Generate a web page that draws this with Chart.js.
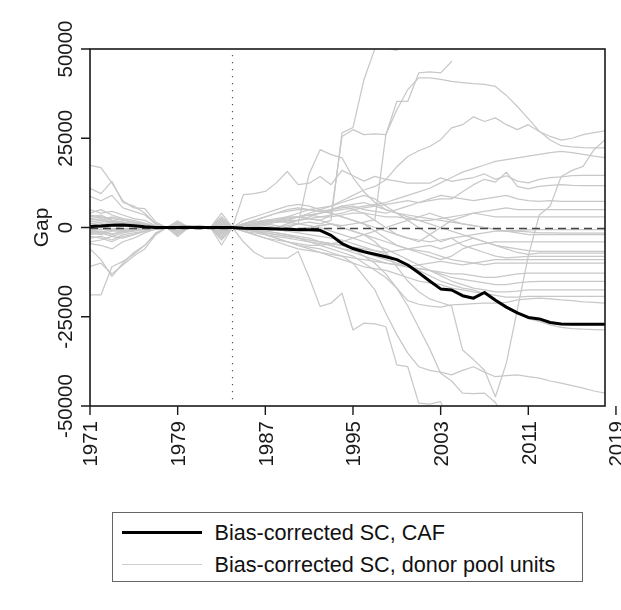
<!DOCTYPE html>
<html>
<head>
<meta charset="utf-8">
<title>Gap</title>
<script src="https://cdn.jsdelivr.net/npm/chart.js@4.4.1/dist/chart.umd.min.js"></script>
<style>
  html, body { margin: 0; padding: 0; background: #fff; }
  #wrap { position: relative; width: 621px; height: 610px; }
  #gapChart { position: absolute; left: 0; top: 0; }
  .legend {
    position: absolute; left: 112px; top: 512px; width: 471px; height: 70px;
    box-sizing: border-box; border: 1.5px solid #666;
    font-family: "Liberation Sans", Arial, Helvetica, sans-serif; font-size: 21.6px; color: #111;
  }
  .legend .row { position: absolute; left: 0; right: 0; height: 30px; line-height: 30px; }
  .legend .r1 { top: 5px; }
  .legend .r2 { top: 37px; }
  .legend .key { position: absolute; left: 8.5px; width: 80px; top: 15px; }
  .legend .caf { border-top: 3px solid #000; margin-top: -2.5px; }
  .legend .donor { border-top: 1.5px solid #cfcfcf; margin-top: -1.5px; }
  .legend .txt { position: absolute; left: 101.5px; white-space: nowrap; }
</style>
</head>
<body>
<div id="wrap">
  <canvas id="gapChart" width="621" height="500"></canvas>
  <div class="legend">
    <div class="row r1"><span class="key caf"></span><span class="txt">Bias-corrected SC, CAF</span></div>
    <div class="row r2"><span class="key donor"></span><span class="txt">Bias-corrected SC, donor pool units</span></div>
  </div>
</div>
<script>
// years on the x axis
const years = [1971, 1972, 1973, 1974, 1975, 1976, 1977, 1978, 1979, 1980, 1981, 1982, 1983, 1984,
  1985, 1986, 1987, 1988, 1989, 1990, 1991, 1992, 1993, 1994, 1995, 1996, 1997, 1998, 1999, 2000,
  2001, 2002, 2003, 2004, 2005, 2006, 2007, 2008, 2009, 2010, 2011, 2012, 2013, 2014, 2015, 2016,
  2017, 2018];
const yearTicks = [1971, 1979, 1987, 1995, 2003, 2011, 2019];
const gapTicks = [-50000, -25000, 0, 25000, 50000];
const treatmentYear = 1984;

// gaps below are in thousands
const gapUnit = 1000;

const cafGap = [0.3, 0.4, 0.6, 0.7, 0.5, 0.2, 0, 0, 0, 0.1, 0, 0, 0, 0,
  -0.2, -0.3, -0.3, -0.4, -0.5, -0.6, -0.6, -0.8, -2.2, -4.5, -5.9, -6.8, -7.5, -8.2, -9, -10.5,
  -12.7, -15, -17.2, -17.5, -19.1, -19.8, -18.2, -20.4, -22.3, -23.9, -25.2, -25.6, -26.6, -27,
  -27.1, -27.1, -27.1, -27.1];

// donor pool units
const donor01 = [2.5, 3, 2, 1.5, 1, 0.5, 0.2, 0, 0.8, 0, 0.2, 0, 1.2, 0,
  0.5, 1, 0.5, 0, 0.5, 1, 1.5, 1, 2, 26.5, 28, 41.4, 50.1, 50.3, 49.6, 58, 64, 68, 71, 74, 76, 78,
  80, 82, 83, 84, 85, 86, 87, 88, 88, 89, 89, 90];
const donor02 = [-1.5, -1, -2, -1, -0.5, -0.3, -0.1, 0, -0.6, 0, 0.1, 0, -1.2, 0,
  0.5, 0.8, 1, 1.5, 1.5, 2, 2.5, 2, 3.5, 25.5, 27.4, 26, 26.2, 26, 35.3, 35.3, 43.3, 43.6, 43.3, 46.5,
  null, null, null, null, null, null, null, null, null, null, null, null, null, null];
const donor03 = [17.4, 16.8, 12.5, 7.5, 5.5, 5.3, 1.5, 0, 1.9, 0, 0.6, 0, 4, 0,
  0.5, 0.3, 0, -0.5, -1, -0.5, 0, 0.5, 1, 0.5, 1, 1.5, 2.2, 26, 33, 38.6, 41.9, 41.9, 41.5, 40.9,
  40.6, 40.3, 40.1, 39.5, 37, 33.9, 30.5, 27, 24.5, 22.9, 22.6, 22.4, 22.3, 22.3];
const donor04 = [11, 9.5, 12.9, 7, 6, 4, 1, 0, 1.2, 0, 0.3, 0, 2.5, 0,
  0.5, 1, 1.5, 2, 3, 4, 5, 5.5, 6, 7.5, 9, 10.5, 11.5, 13.4, 17, 19.9, 21.5, 22.7, 24.6, 27.9, 28.8,
  31, 29.7, 30.7, 28.8, 27.4, 28.8, 26.9, 25.5, 24.5, 25, 26, 26.6, 27.1];
const donor05 = [1, 1.5, 1.8, 1, 0.8, 0.3, 0.1, 0, -0.3, 0, 0.1, 0, -0.5, 0,
  0, 0.5, 1, 0.5, 0, -0.5, 0, 0.5, 1, 0, -1, -2, -4, -7, -11, -15, -18, -20, -21, -22, -34.3, -37,
  -40, -47.4, -38, -23, -8, 3.5, 6, 14.3, 16, 17.1, 21.8, 24.6];
const donor06 = [8.7, 7.5, 9, 5.5, 4.5, 3.5, 1, 0, -1, 0, -0.4, 0, 3, 0,
  1, 1.5, 2, 2, 2.5, 3, 3.5, 4, 4.5, 5, 5.5, 6, 6.5, 7, 8, 9, 10, 11, 12.5, 14, 15.5, 16.5, 17.5,
  18.5, 19, 19.5, 20, 20.5, 21, 21.3, 21, 20.5, 20, 19.6];
const donor07 = [3.5, 3, 2.5, 2, 1.5, 1, 0.3, 0, -0.5, 0, 0.2, 0, -1, 0,
  9.2, 9.5, 10.1, 12.5, 15.7, 12, 12.4, 14.3, 12, 16, 14.5, 13, 14.3, 13.5, 13, 12.4, 12.4, 12.4,
  13.9, 12.9, 13.5, 14, 15, 13.5, 14.5, 13, 12.5, 13.5, 14, 14.2, 14.5, 14.6, 14.6, 14.6];
const donor08 = [-1, -0.5, -0.8, -0.5, -0.3, -0.2, 0, 0, 0.3, 0, 0, 0, 0.5, 0,
  -0.5, -1, -1, -0.5, 0, 1, 15, 21.8, 20.4, 19.5, 14, 10, 7, 5, 4, 3.5, 3, 2.5, 2, 1.5, 1, 0.5, 0,
  -0.5, -1, -1, -1.2, -1.5, -1.5, -1.6, -1.6, -1.6, -1.6, -1.6];
const donor09 = [-2, -1.5, -2.5, -1.5, -1, -0.5, -0.2, 0, -0.8, 0, -0.2, 0, -1.5, 0,
  0.5, 1, 1.5, 2, 2.5, 3, 3.5, 3, 3.5, 4, 5, 5.5, 6, 6.5, 7, 7.5, 7, 7.5, 8, 8, 10, 12, 13.5, 12.7,
  15.5, 11.5, 10.8, 11.5, 11.8, 12, 11.8, 11.7, 11.7, 11.7];
const donor10 = [-3, -2.5, -3.5, -2, -1.5, -1, -0.3, 0, 0.4, 0, 0.3, 0, 1, 0,
  1, 2, 3, 4, 5, 5.5, 5, 4.5, 5, 5.5, 6, 5, 4.5, 4, 5, 6, 7, 8, 9, 8.5, 8, 7.5, 8, 8.5, 9, 8, 7.5,
  7.3, 7.5, 7.3, 7.3, 7.3, 7.3, 7.3];
const donor11 = [-4, -3.5, -2.5, -3, -2, -1, -0.5, 0, -1.2, 0, -0.2, 0, -2, 0,
  0.5, 1, 1, 1.5, 2, 2, 2.5, 3, 3, 3.5, 4, 4, 3.5, 3, 3, 2.5, 2, 2, 2.5, 3, 3.5, 4, 4.5, 5, 5.5, 5,
  5, 5, 5, 5, 5, 5, 5, 5];
const donor12 = [-6, -9, -13.7, -10, -7, -5, -1.5, 0, -2.5, 0, -0.5, 0, -4.9, 0,
  0, -1, -2, -3, -4, -5, -5.5, -6, -7, -8, -10, -13.7, -17.5, -24, -30, -35.2, -39, -40, -40.5, -41.3,
  -40, -39, -40.5, -41.8, -41.5, -41.3, -41.8, -42.2, -43, -43.6, -44.3, -45, -45.8, -46.4];
const donor13 = [-18.9, -18.9, -11, -9.5, -7.5, -5, -1.8, 0, 0.6, 0, -0.3, 0, 2, 0,
  -4, -7, -8.6, -8.6, -8.6, -6.7, -14, -22.1, -21.2, -18.4, -28.7, -26.8, -27, -27.8, -38.5, -39,
  -49.2, -49.5, -48.8, -56, -60, -62, -63, -64, -65, -66, -66, -67, -67, -68, -68, -68, -69, -69];
const donor14 = [-10.9, -10, -13, -10.5, -8, -6, -2, 0, -1.5, 0, 0.4, 0, -3, 0,
  0, -0.5, -1, -1.5, -2, -3, -4, -5, -6, -7, -8, -10, -12, -14, -17, -20.5, -21.5, -22, -22.3, -21.7,
  -21.5, -21.3, -21.2, -21.2, -21, -20.3, -20, -19.8, -20, -20.3, -20.5, -20.8, -21, -21.2];
const donor15 = [2, 2.5, 1.5, 1.5, 1, 0.5, 0.2, 0, 0.5, 0, -0.3, 0, 0.8, 0,
  -0.5, -1, -1.5, -2, -2.5, -3, -3.5, -4, -4.5, -5, -6, -8, -10, -13, -17, -22, -28, -34, -40.8, -43,
  -46.4, -46.5, -46.4, -49, -55, -58, -60, -61, -62, -62, -63, -63, -63, -63];
const donor16 = [5, 4, 4.5, 3.5, 2.5, 2, 0.5, 0, 0.8, 0, 0.2, 0, 1.5, 0,
  0.5, 0.5, 0, -0.5, -1, -1.5, -2, -2.5, -3, -3.5, -4.5, -5.5, -6.5, -7.5, -9, -10.5, -12, -13.5,
  -15, -16, -17, -17.5, -18.5, -20, -22.5, -24, -25.5, -26.3, -27.3, -28, -28.3, -28.5, -28.6, -28.7];
const donor17 = [0.5, 1, 0.8, 0.5, 0.3, 0.2, 0, 0, -0.4, 0, 0.1, 0, -0.8, 0,
  1, 2, 3, 4, 4.5, 5, 5, 4.5, 4, 3, 2, 1, 0, -1, -2, -3, -3.5, -4, -3.5, -3, -2.5, -2, -1.5, -1, -1,
  -0.8, -0.7, -0.6, -0.6, -0.6, -0.6, -0.6, -0.6, -0.6];
const donor18 = [-0.5, 0, -0.5, -0.3, -0.2, -0.1, 0, 0, 0.6, 0, -0.1, 0, 0.3, 0,
  -1, -2, -3, -3.5, -4, -4.5, -5, -5, -4.5, -4, -3, -2, -1, 0, 1, 2, 3, 4, 3, 2, 1, 0.5, 0, -0.5,
  -1, -1.5, -2, -2, -2, -2, -2, -2, -2, -2];
const donor19 = [1.5, 2, 1.2, 1, 0.8, 0.4, 0.1, 0, -0.2, 0, 0.2, 0, -2.5, 0,
  0.5, 1, 1.5, 2, 2.5, 3, 3.5, 4, 5, 6, 6.5, 7, 6, 5, 4, 3, 2, 1, 0, -1, -2, -3, -4, -5, -5.5, -6,
  -6.5, -6.7, -6.7, -6.7, -6.7, -6.7, -6.7, -6.7];
const donor20 = [-1.5, -2, -1, -1, -0.8, -0.5, -0.1, 0, 1.5, 0, -0.2, 0, 2.2, 0,
  -0.5, -1, -1.5, -2, -2.5, -3, -3.5, -4, -4.5, -5, -5.5, -6, -6.5, -7, -6.5, -6, -5.5, -5, -6, -5,
  -4, -3, -4, -5, -6, -7, -7.5, -7.2, -7.2, -7.2, -7.2, -7.2, -7.2, -7.2];
const donor21 = [0, 0.5, -0.5, 0.3, 0.5, 0.3, 0.1, 0, -1.8, 0, 0.3, 0, -1.8, 0,
  0, 0.5, 1, 1.5, 2, 3, 4, 5, 6, 7, 8, 9, 8, 6, 4, 2, 0, -2, -4, -3, -5, -6, -7, -8, -8.5, -8.3,
  -8.1, -8.1, -8.1, -8.1, -8.1, -8.1, -8.1, -8.1];
const donor22 = [-2.5, -3, -4, -2.5, -2, -1, -0.3, 0, 0.2, 0, 0.1, 0, -0.8, 0,
  -1, -1.5, -2, -2.5, -3, -3.5, -4, -4.5, -5, -6, -7, -8, -9, -10, -10.5, -11, -10.5, -10, -9.5, -10,
  -10.5, -10, -9.5, -9, -9, -9, -9, -9, -9, -9, -9, -9, -9, -9];
const donor23 = [3, 3.5, 2, 1.5, 1.2, 0.8, 0.2, 0, 1, 0, -0.4, 0, 1.8, 0,
  0.5, 1, 2, 2.5, 3, 3, 2.5, 2, 1, 0, -1, -2, -3, -4, -5, -6, -6.5, -7, -8, -9, -9.5, -10, -10.5,
  -10, -10, -10, -10, -10, -10, -10, -10, -10, -10, -10];
const donor24 = [-4.5, -5, -6, -4, -3, -1.5, -0.4, 0, -2.2, 0, 0.2, 0, -3.5, 0,
  -1, -2, -3, -4, -5, -6, -6.5, -7, -7.5, -8, -8.5, -9, -9.5, -10, -10.5, -11, -11.5, -12, -12.5, -13,
  -13, -13.5, -14, -14, -13.5, -13, -12.8, -12.8, -12.8, -12.8, -12.8, -12.8, -12.8, -12.8];
const donor25 = [2.5, 2, 3, 2.2, 1.5, 0.8, 0.2, 0, 0.2, 0, -0.2, 0, 0.5, 0,
  0, -0.5, -1, -1.5, -2, -2.5, -3, -4, -5, -6, -6.5, -7, -8, -9, -10, -11, -11.5, -12, -13, -14,
  -14.5, -15, -15.5, -16, -16, -15.5, -15.2, -15.1, -15.1, -15.1, -15.1, -15.1, -15.1, -15.1];
const donor26 = [-1, -1.5, -0.5, -0.8, -0.5, -0.2, 0, 0, -0.6, 0, 0, 0, -1.2, 0,
  1, 1.5, 2, 2, 1.5, 1, 0.5, 0, -1, -2, -3, -4, -5, -6, -7.5, -9, -10.5, -12, -13.5, -15, -16, -17,
  -17.5, -18, -18, -17.8, -17.5, -17.5, -17.5, -17.5, -17.5, -17.5, -17.5, -17.5];
const donor27 = [4, 5, 3.5, 2.5, 2, 1.2, 0.3, 0, 0.5, 0, 0.3, 0, 0.2, 0,
  -0.5, -1, -2, -3, -4, -5, -6, -7, -8, -9, -10, -11, -11.5, -12, -13, -14, -15, -15.5, -16, -17,
  -17.5, -18, -18.5, -19, -19.5, -19.5, -19.3, -19.3, -19.3, -19.3, -19.3, -19.3, -19.3, -19.3];
const donor28 = [1.2, 0.5, 1.5, 1, 0.6, 0.3, 0.1, 0, 0.3, 0, -0.1, 0, -0.3, 0,
  -0.5, -1, -0.5, 0, 1, 2, 3, 4, 5, 6, 5, 4, 2, 0, -2, -3, -4, -2, 0, 2, 3, 4, 3.5, 3, 3, 3, 3, 3, 3,
  3, 3, 3, 3, 3];
const donor29 = [-0.8, -1.2, -1.8, -1.2, -0.8, -0.4, -0.1, 0, 0.9, 0, 0.2, 0, 1.4, 0,
  2, 3, 4, 5, 6, 6.5, 6, 5, 4, 3, 2, 1, -1, -3, -5, -6, -7, -8, -9, -8, -6, -5, -4.5, -4, -4, -4, -4,
  -4, -4, -4, -4, -4, -4, -4];

const donorGaps = [donor01, donor02, donor03, donor04, donor05, donor06, donor07, donor08, donor09,
  donor10, donor11, donor12, donor13, donor14, donor15, donor16, donor17, donor18, donor19, donor20,
  donor21, donor22, donor23, donor24, donor25, donor26, donor27, donor28, donor29];

const FONT = '"Liberation Sans", Arial, Helvetica, sans-serif';
const INK = '#1a1a1a';

function toPoints(series) {
  return series.map((v, i) => ({ x: years[i], y: v === null ? null : v * gapUnit }));
}

// CAF first so it is painted last, on top of the donor lines
const datasets = [{
  label: 'Bias-corrected SC, CAF',
  data: toPoints(cafGap),
  borderColor: '#000',
  borderWidth: 3
}];
donorGaps.forEach(series => {
  datasets.push({
    label: 'Bias-corrected SC, donor pool units',
    data: toPoints(series),
    borderColor: '#c8c8c8',
    borderWidth: 1.25
  });
});

// reference lines, frame, ticks and rotated labels
const axisDecor = {
  id: 'axisDecor',
  beforeDatasetDraw(chart, args) {
    if (args.index !== 0) return;
    const { ctx, chartArea: a, scales: { x, y } } = chart;
    ctx.save();
    ctx.beginPath();
    ctx.rect(a.left, a.top, a.right - a.left, a.bottom - a.top);
    ctx.clip();
    const y0 = Math.round(y.getPixelForValue(0)) + 0.5;
    ctx.strokeStyle = '#444';
    ctx.lineWidth = 1.4;
    ctx.setLineDash([8, 5]);
    ctx.beginPath();
    ctx.moveTo(a.left, y0);
    ctx.lineTo(a.right, y0);
    ctx.stroke();
    const xt = Math.round(x.getPixelForValue(treatmentYear)) + 0.5;
    ctx.strokeStyle = '#555';
    ctx.lineWidth = 1.2;
    ctx.setLineDash([1.3, 5.7]);
    ctx.beginPath();
    ctx.moveTo(xt, a.top + 6);
    ctx.lineTo(xt, a.bottom - 4);
    ctx.stroke();
    ctx.restore();
  },
  afterDraw(chart) {
    const { ctx, chartArea: a, scales: { x, y } } = chart;
    ctx.save();
    ctx.strokeStyle = INK;
    ctx.lineWidth = 1.6;
    ctx.strokeRect(a.left, a.top, a.right - a.left, a.bottom - a.top);

    ctx.lineWidth = 1.4;
    ctx.beginPath();
    gapTicks.forEach(v => {
      const py = y.getPixelForValue(v);
      ctx.moveTo(a.left - 9, py);
      ctx.lineTo(a.left, py);
    });
    yearTicks.forEach(v => {
      const px = x.getPixelForValue(v);
      ctx.moveTo(px, a.bottom);
      ctx.lineTo(px, a.bottom + 9);
    });
    ctx.stroke();

    ctx.fillStyle = INK;
    ctx.font = '20.5px ' + FONT;
    ctx.textBaseline = 'alphabetic';
    gapTicks.forEach(v => {
      ctx.save();
      ctx.translate(72, y.getPixelForValue(v));
      ctx.rotate(-Math.PI / 2);
      ctx.textAlign = 'center';
      ctx.fillText(String(v), 0, 0);
      ctx.restore();
    });
    yearTicks.forEach(v => {
      ctx.save();
      ctx.translate(x.getPixelForValue(v) + 7.3, a.bottom + 15);
      ctx.rotate(-Math.PI / 2);
      ctx.textAlign = 'right';
      ctx.fillText(String(v), 0, 0);
      ctx.restore();
    });

    ctx.font = '21px ' + FONT;
    ctx.save();
    ctx.translate(47.7, (a.top + a.bottom) / 2);
    ctx.rotate(-Math.PI / 2);
    ctx.textAlign = 'center';
    ctx.fillText('Gap', 0, 0);
    ctx.restore();
    ctx.restore();
  }
};

new Chart(document.getElementById('gapChart'), {
  type: 'line',
  data: { datasets },
  options: {
    responsive: false,
    animation: false,
    events: [],
    layout: { padding: { left: 0, top: 49, right: 16, bottom: 34 } },
    elements: {
      point: { radius: 0 },
      line: { tension: 0, fill: false, borderCapStyle: 'round', borderJoinStyle: 'round' }
    },
    spanGaps: false,
    scales: {
      x: {
        type: 'linear',
        min: 1971,
        max: 2018,
        afterBuildTicks: s => { s.ticks = yearTicks.map(v => ({ value: v })); },
        afterFit: s => { s.height = 60; },
        ticks: { display: false },
        grid: { display: false },
        border: { display: false }
      },
      y: {
        min: -50000,
        max: 50000,
        afterBuildTicks: s => { s.ticks = gapTicks.map(v => ({ value: v })); },
        afterFit: s => { s.width = 90; },
        ticks: { display: false },
        grid: { display: false },
        border: { display: false }
      }
    },
    plugins: {
      legend: { display: false },
      tooltip: { enabled: false }
    }
  },
  plugins: [axisDecor]
});
</script>
</body>
</html>
